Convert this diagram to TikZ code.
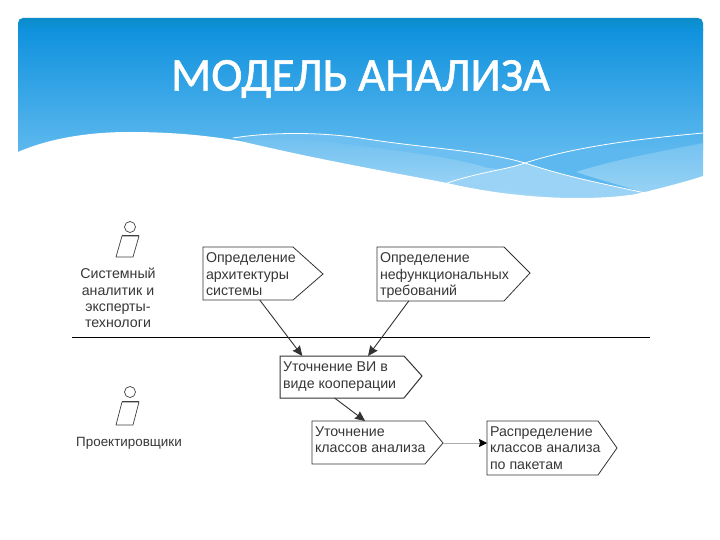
\documentclass[tikz,border=0pt]{standalone}
\usepackage{fontspec}
\setmainfont{Liberation Sans}
\newfontfamily\titlefont[FakeBold=1.2]{Carlito}
\usetikzlibrary{calc,arrows.meta}
\definecolor{inkgray}{RGB}{55,55,55}
\definecolor{skytop}{RGB}{16,146,222}
\definecolor{skybot}{RGB}{92,184,238}
\definecolor{skystrip}{RGB}{10,140,200}
\tikzset{
  x=1pt,y=-1pt,
  lbl/.style={inner sep=0pt,outer sep=0pt,align=left,anchor=north west,font=\fontsize{14.2}{16.5}\selectfont,text=inkgray},
  actorlbl/.style={inner sep=0pt,outer sep=0pt,align=center,font=\fontsize{14.2}{16.2}\selectfont,text=inkgray},
  bodybox/.style={inner sep=0pt,outer sep=0pt,minimum height=#1,anchor=north west},
  outline/.style={draw=black!80,line width=0.8pt,fill=white,line join=miter},
  link/.style={draw=black!80,line width=0.9pt,-{Stealth[length=10pt,width=9pt,inset=1pt]}},
  thinlink/.style={draw=black!32,line width=0.7pt,-{Stealth[length=8pt,width=8pt,inset=1pt,color=black]}},
  wline/.style={draw=white,line width=0.8pt},
  actorpart/.style={draw=black!75,line width=0.7pt,fill=white}
}
\newcommand{\wavepath}{(10,155) -- (18,152) .. controls (50,138) and (90,132) .. (129,132) .. controls (175,132) and (210,136) .. (240,141) .. controls (320,160) and (390,172) .. (447,183) .. controls (490,193) and (535,198) .. (576,198) .. controls (600,198) and (625,197) .. (645,192) .. controls (665,187) and (685,182) .. (703,176) -- (712,173)}
\begin{document}
\begin{tikzpicture}
\useasboundingbox (0,0) rectangle (720,540);
\fill[white] (0,0) rectangle (720,540);
% banner
\begin{scope}
\clip[rounded corners=5pt] (18,18) rectangle (703,200);
\shade[top color=skytop,bottom color=skybot] (18,30) rectangle (703,150);
\fill[skybot] (18,149) rectangle (703,200);
\shade[top color=skystrip,bottom color=skytop] (18,18) rectangle (703,31);
% light wave shapes
\fill[skybot!90!white] (233,138) .. controls (270,132) and (320,132) .. (360,138) .. controls (430,149) and (480,150) .. (525,163) .. controls (570,178) and (610,185) .. (645,193) -- (576,200) -- (440,190) -- cycle;
\shade[top color=skybot!88!white,bottom color=skybot!55!white] (240,141) .. controls (270,137) and (300,138) .. (330,142) .. controls (390,150) and (450,156) .. (488,168) .. controls (530,172) and (570,178) .. (610,186) -- (645,200) -- (440,200) -- cycle;
\fill[skybot!62!white] (447,183) .. controls (480,172) and (505,170) .. (525,163) .. controls (570,178) and (610,185) .. (645,193) -- (576,200) -- cycle;
\shade[top color=skybot!85!white,bottom color=skybot!60!white] (576,172) .. controls (620,158) and (670,150) .. (703,143) -- (703,200) -- (645,193) .. controls (620,185) and (600,180) .. (576,172) -- cycle;
\end{scope}
% white ground
\fill[white] \wavepath -- (712,210) -- (10,210) -- cycle;
\begin{scope}
\clip (18,18) rectangle (703,200);
\draw[wline] (233,138) .. controls (270,132) and (320,132) .. (360,138) .. controls (430,149) and (480,150) .. (525,163) .. controls (570,178) and (610,185) .. (645,193);
\draw[wline] (447,183) .. controls (480,172) and (505,170) .. (525,163) .. controls (580,145) and (650,138) .. (703,133);
\end{scope}
\node[inner sep=0pt,font=\titlefont\fontsize{47}{47}\selectfont,text=white] (title) at (360.5,79) {МОДЕЛЬ АНАЛИЗА};
% divider
\coordinate (divL) at (72,337);
\coordinate (divR) at (650,337);
\draw[black,line width=0.9pt] (divL) -- (divR);
% boxes
\node[bodybox=53pt,minimum width=90pt] (b1) at (203,247) {};
\coordinate (b1tip) at (323,274);
\draw[outline] (b1.north west) -- (b1.north east) -- (b1tip) -- (b1.south east) -- (b1.south west) -- cycle;
\node[lbl] (t1) at (206,253) {Определение\\архитектуры\\системы};
\node[bodybox=54pt,minimum width=127pt] (b2) at (377,247) {};
\coordinate (b2tip) at (530,273);
\draw[outline] (b2.north west) -- (b2.north east) -- (b2tip) -- (b2.south east) -- (b2.south west) -- cycle;
\node[lbl] (t2) at (380,253) {Определение\\нефункциональных\\требований};
\node[bodybox=42pt,minimum width=124pt] (b3) at (280,356) {};
\coordinate (b3tip) at (422,376);
\draw[outline,line width=1pt] (b3.north west) -- (b3.north east) -- (b3tip) -- (b3.south east) -- (b3.south west) -- cycle;
\node[lbl] (t3) at (283,362) {Уточнение ВИ в\\виде кооперации};
\node[bodybox=43pt,minimum width=113pt] (b4) at (312,421) {};
\coordinate (b4tip) at (443,443);
\draw[outline] (b4.north west) -- (b4.north east) -- (b4tip) -- (b4.south east) -- (b4.south west) -- cycle;
\node[lbl] (t4) at (315,426.5) {Уточнение\\классов анализа};
\node[bodybox=54pt,minimum width=111pt] (b5) at (487,421) {};
\coordinate (b5tip) at (617,448);
\draw[outline] (b5.north west) -- (b5.north east) -- (b5tip) -- (b5.south east) -- (b5.south west) -- cycle;
\node[lbl] (t5) at (490,426.5) {Распределение\\классов анализа\\по пакетам};
% connectors
\draw[link] ($(b1.south west)!0.63!(b1.south east)$) -- ($(b3.north west)!0.18!(b3.north east)$);
\draw[link] ($(b2.south west)!0.25!(b2.south east)$) -- ($(b3.north west)!0.71!(b3.north east)$);
\draw[link] ($(b3.south west)!0.44!(b3.south east)$) -- ($(b4.north west)!0.47!(b4.north east)$);
\draw[thinlink] (b4tip) -- (b5.west |- b4tip);
% actors
\node[draw=black!75,line width=0.7pt,circle,minimum size=11pt,inner sep=0pt] (a1h) at (130,227) {};
\draw[actorpart] (122,236) -- (139,236) -- (133,257) -- (116,257) -- cycle;
\draw[black!75,line width=1pt] (122,235) -- (139,235);
\node[actorlbl] (a1l) at (118,298) {Системный\\аналитик и\\эксперты-\\технологи};
\node[draw=black!75,line width=0.7pt,circle,minimum size=11pt,inner sep=0pt] (a2h) at (130,392) {};
\draw[actorpart] (122,402) -- (139,402) -- (133,425) -- (116,425) -- cycle;
\draw[black!75,line width=1pt] (122,401) -- (139,401);
\node[actorlbl,font=\fontsize{13.4}{16}\selectfont] (a2l) at (129,443) {Проектировщики};
\end{tikzpicture}
\end{document}
